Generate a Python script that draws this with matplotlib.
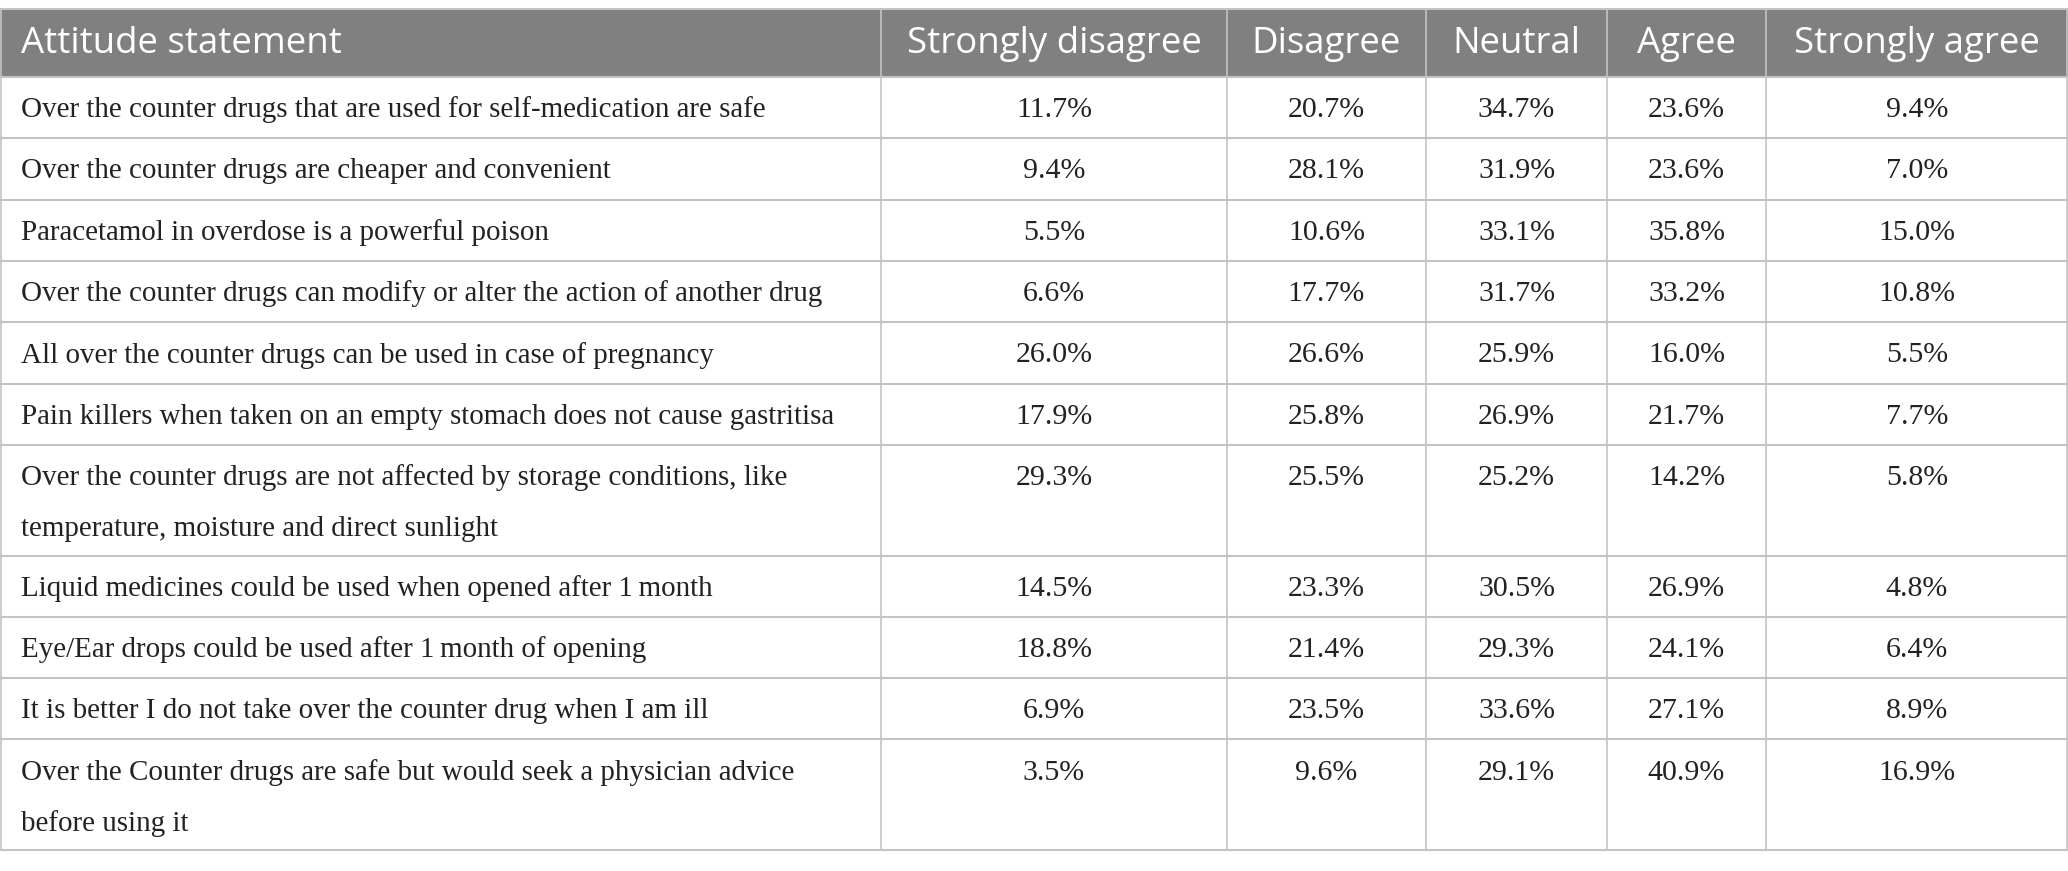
import matplotlib.pyplot as plt
from matplotlib.patches import Rectangle

# table contents
header = ["Attitude statement", "Strongly disagree", "Disagree", "Neutral", "Agree", "Strongly agree"]

statements = [
    ["Over the counter drugs that are used for self-medication are safe"],
    ["Over the counter drugs are cheaper and convenient"],
    ["Paracetamol in overdose is a powerful poison"],
    ["Over the counter drugs can modify or alter the action of another drug"],
    ["All over the counter drugs can be used in case of pregnancy"],
    ["Pain killers when taken on an empty stomach does not cause gastritisa"],
    ["Over the counter drugs are not affected by storage conditions, like",
     "temperature, moisture and direct sunlight"],
    ["Liquid medicines could be used when opened after 1\u2009month"],
    ["Eye/Ear drops could be used after 1\u2009month of opening"],
    ["It is better I do not take over the counter drug when I am ill"],
    ["Over the Counter drugs are safe but would seek a physician advice",
     "before using it"],
]

strongly_disagree = ["11.7%", "9.4%", "5.5%", "6.6%", "26.0%", "17.9%", "29.3%", "14.5%", "18.8%", "6.9%", "3.5%"]
disagree = ["20.7%", "28.1%", "10.6%", "17.7%", "26.6%", "25.8%", "25.5%", "23.3%", "21.4%", "23.5%", "9.6%"]
neutral = ["34.7%", "31.9%", "33.1%", "31.7%", "25.9%", "26.9%", "25.2%", "30.5%", "29.3%", "33.6%", "29.1%"]
agree = ["23.6%", "23.6%", "35.8%", "33.2%", "16.0%", "21.7%", "14.2%", "26.9%", "24.1%", "27.1%", "40.9%"]
strongly_agree = ["9.4%", "7.0%", "15.0%", "10.8%", "5.5%", "7.7%", "5.8%", "4.8%", "6.4%", "8.9%", "16.9%"]

# layout in pixels
W, H = 2068, 871
col_edges = [0, 881, 1227, 1426, 1607, 1766, 2068]
top = 9
header_h = 68
row_h = 61.3
extra_h = 49.5   # added height of a two-line row
line_gap = 51
line_col = "#c3c3c3"
head_bg = "#808080"
txt_col = "#222222"

fig = plt.figure(figsize=(W / 100, H / 100), dpi=100)
ax = fig.add_axes([0, 0, 1, 1])
ax.set_xlim(0, W)
ax.set_ylim(H, 0)
ax.axis("off")

# header
ax.add_patch(Rectangle((0, top), W, header_h, facecolor=head_bg, edgecolor="none"))
for j, h in enumerate(header):
    if j == 0:
        x, ha = col_edges[0] + 21, "left"
    else:
        x, ha = (col_edges[j] + col_edges[j + 1]) / 2, "center"
    ax.text(x, top + header_h / 2 + 1, h, ha=ha, va="center", color="white",
            fontsize=26.4, family="Open Sans")

columns = [strongly_disagree, disagree, neutral, agree, strongly_agree]

y = top + header_h
row_tops = [y]
for i, st in enumerate(statements):
    h = row_h + extra_h * (len(st) - 1)
    for k, line in enumerate(st):
        ax.text(col_edges[0] + 21, y + 33 + k * line_gap, line, ha="left", va="center",
                fontsize=20.9, family=["Liberation Serif", "DejaVu Serif"], color=txt_col)
    for j, col in enumerate(columns):
        cx = (col_edges[j + 1] + col_edges[j + 2]) / 2
        ax.text(cx, y + 33, col[i], ha="center", va="center",
                fontsize=21.5, family="Liberation Serif", color=txt_col)
    y += h
    row_tops.append(y)

bottom = y

# grid lines
ax.plot([0, W], [top, top], color=line_col, lw=1.5)
for ry in row_tops:
    ax.plot([0, W], [ry, ry], color=line_col, lw=1.5)
for cx in col_edges:
    cx = min(max(cx, 0.75), W - 0.75)
    ax.plot([cx, cx], [top, bottom], color=line_col, lw=1.2)

fig.savefig("out.png", dpi=100)
